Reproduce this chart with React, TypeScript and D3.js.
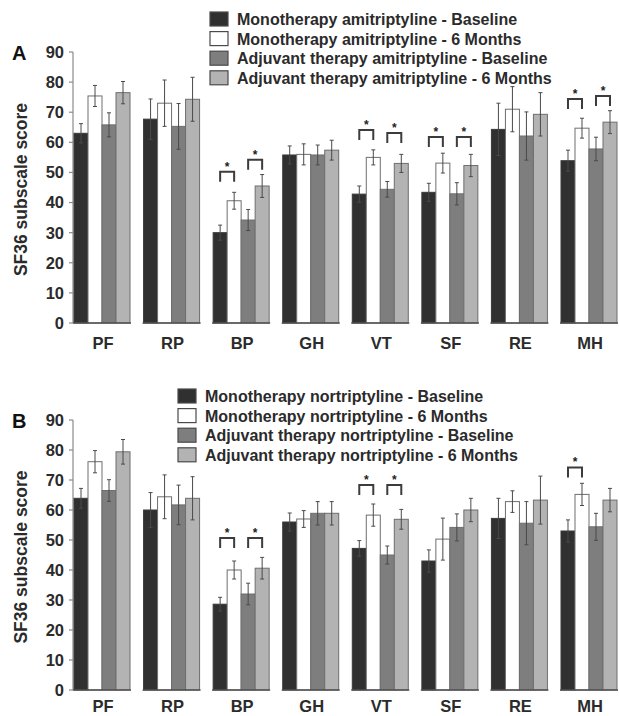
import React from "react";
import * as d3 from "d3";

const categories = ["PF", "RP", "BP", "GH", "VT", "SF", "RE", "MH"];
const yTicks = [0, 10, 20, 30, 40, 50, 60, 70, 80, 90];

const seriesA = [
  "Monotherapy amitriptyline - Baseline",
  "Monotherapy amitriptyline - 6 Months",
  "Adjuvant therapy amitriptyline - Baseline",
  "Adjuvant therapy amitriptyline - 6 Months",
];
const seriesB = [
  "Monotherapy nortriptyline - Baseline",
  "Monotherapy nortriptyline - 6 Months",
  "Adjuvant therapy nortriptyline - Baseline",
  "Adjuvant therapy nortriptyline - 6 Months",
];

// values per series (rows) across categories
const valuesA = [
  [63, 67.7, 30, 55.8, 42.8, 43.4, 64.3, 53.9],
  [75.4, 73, 40.6, 56, 55, 53.1, 71, 64.7],
  [65.8, 65.3, 34.2, 55.8, 44.4, 42.9, 62.1, 57.8],
  [76.5, 74.3, 45.5, 57.4, 53, 52.3, 69.3, 66.7],
];
const errorsA = [
  [3.2, 6.7, 2.5, 3, 2.7, 3, 8.7, 3.5],
  [3.5, 7.7, 2.8, 3.5, 2.5, 3.3, 7.5, 3.3],
  [4, 7.6, 3.5, 3.3, 2.6, 3.7, 8, 3.9],
  [3.7, 7.3, 3.8, 3.3, 3, 3.7, 7.2, 3.8],
];
const valuesB = [
  [63.9, 60, 28.6, 56, 47.2, 43, 57.2, 53],
  [76.1, 64.4, 40, 57, 58.3, 50.3, 62.8, 65.2],
  [66.5, 61.7, 32, 58.9, 45, 54.2, 55.6, 54.4],
  [79.4, 63.9, 40.6, 58.9, 56.9, 60, 63.3, 63.3],
];
const errorsB = [
  [3.3, 5.8, 2.3, 3, 2.6, 3.7, 6.7, 3.7],
  [3.7, 7.3, 3, 2.8, 3.7, 7, 3.6, 3.7],
  [3.6, 6.6, 3.6, 3.9, 3, 4.5, 7.2, 4.5],
  [4.1, 7.2, 3.6, 3.9, 3.3, 3.9, 8, 3.9],
];

// significance brackets: category, pair (0 = monotherapy, 1 = adjuvant), level (score units)
const sigCatsA = ["BP", "BP", "VT", "VT", "SF", "SF", "MH", "MH"];
const sigPairsA = [0, 1, 0, 1, 0, 1, 0, 1];
const sigLevelsA = [50.2, 54.2, 64.1, 63.1, 61.8, 61.8, 74.4, 75.4];
const sigCatsB = ["BP", "BP", "VT", "VT", "MH"];
const sigPairsB = [0, 1, 0, 1, 0];
const sigLevelsB = [50.7, 50.7, 68.3, 68.3, 74.2];

const fills = ["#303030", "#ffffff", "#7e7e7e", "#b3b3b3"];
const FONT = "'Liberation Sans', Arial, Helvetica, sans-serif";
const TEXT = "#2b2b2b";

type PanelProps = {
  letter: string;
  series: string[];
  values: number[][];
  errors: number[][];
  sigCats: string[];
  sigPairs: number[];
  sigLevels: number[];
  yTop: number;
  yBottom: number;
  legendX: number;
  legendY: number;
  catOffset: number;
};

function Panel(p: PanelProps) {
  const x = d3.scaleBand<string>().domain(categories).range([74, 617]).paddingInner(0.195).paddingOuter(0);
  const sub = d3.scaleBand<number>().domain([0, 1, 2, 3]).range([0, x.bandwidth()]).padding(0);
  const y = d3.scaleLinear().domain([0, 90]).range([p.yBottom, p.yTop]);
  const axisX = 73;
  const legStep = 19.6;

  return (
    <g>
      <text x={12} y={y(90) + 8} fontFamily={FONT} fontWeight="bold" fontSize={20} fill="#111">
        {p.letter}
      </text>
      <text
        transform={`translate(27,${(y(0) + y(90)) / 2 + 2}) rotate(-90)`}
        textAnchor="middle"
        fontFamily={FONT}
        fontWeight="bold"
        fontSize={17.5}
        fill={TEXT}
      >
        SF36 subscale score
      </text>
      {/* y axis */}
      <line x1={axisX} x2={axisX} y1={y(0)} y2={y(90)} stroke="#8a8a8a" strokeWidth={1.2} />
      {yTicks.map((t) => (
        <g key={t}>
          <line x1={axisX - 4} x2={axisX} y1={y(t)} y2={y(t)} stroke="#8a8a8a" strokeWidth={1.2} />
          <text
            x={64}
            y={y(t)}
            dy="0.36em"
            textAnchor="end"
            fontFamily={FONT}
            fontWeight="bold"
            fontSize={16.5}
            fill={TEXT}
          >
            {t}
          </text>
        </g>
      ))}
      {/* bars */}
      {categories.map((c, ci) => (
        <g key={c}>
          {p.values.map((vals, si) => {
            const bx = (x(c) as number) + (sub(si) as number);
            const bw = sub.bandwidth();
            const v = vals[ci];
            const e = p.errors[si][ci];
            const cx = bx + bw / 2;
            return (
              <g key={si}>
                <rect
                  x={bx}
                  y={y(v)}
                  width={bw}
                  height={y(0) - y(v)}
                  fill={fills[si]}
                  stroke={si === 0 ? "#3a3a3a" : "#6e6e6e"}
                  strokeWidth={1}
                />
                <line x1={cx} x2={cx} y1={y(v - e)} y2={y(v + e)} stroke="#4a4a4a" strokeWidth={1} />
                <line x1={cx - 2} x2={cx + 2} y1={y(v + e)} y2={y(v + e)} stroke="#4a4a4a" strokeWidth={1} />
                <line x1={cx - 2} x2={cx + 2} y1={y(v - e)} y2={y(v - e)} stroke="#4a4a4a" strokeWidth={1} />
              </g>
            );
          })}
          <line
            x1={(x(c) as number) - 1}
            x2={(x(c) as number) + x.bandwidth() + 1}
            y1={y(0)}
            y2={y(0)}
            stroke="#505050"
            strokeWidth={1.5}
          />
          <text
            x={(x(c) as number) + x.bandwidth() / 2 + 1}
            y={y(0) + p.catOffset}
            textAnchor="middle"
            fontFamily={FONT}
            fontWeight="bold"
            fontSize={16.5}
            fill={TEXT}
          >
            {c}
          </text>
        </g>
      ))}
      {/* significance brackets */}
      {p.sigCats.map((c, i) => {
        const bw = sub.bandwidth();
        const x1 = (x(c) as number) + (sub(p.sigPairs[i] * 2) as number) + bw / 2;
        const x2 = (x(c) as number) + (sub(p.sigPairs[i] * 2 + 1) as number) + bw / 2;
        const ty = y(p.sigLevels[i]);
        return (
          <g key={i}>
            <path
              d={`M${x1},${ty + 10} V${ty} H${x2} V${ty + 10}`}
              fill="none"
              stroke="#3c3c3c"
              strokeWidth={2}
            />
            <text
              x={(x1 + x2) / 2}
              y={ty - 1}
              textAnchor="middle"
              fontFamily={FONT}
              fontWeight="bold"
              fontSize={12}
              fill="#222"
            >
              *
            </text>
          </g>
        );
      })}
      {/* legend */}
      {p.series.map((s, i) => (
        <g key={s}>
          <rect
            x={p.legendX}
            y={p.legendY + i * legStep}
            width={18}
            height={14}
            fill={fills[i]}
            stroke="#4a4a4a"
            strokeWidth={1.2}
          />
          <text
            x={p.legendX + 27}
            y={p.legendY + i * legStep + 13}
            fontFamily={FONT}
            fontWeight="bold"
            fontSize={16}
            fill={TEXT}
          >
            {s}
          </text>
        </g>
      ))}
    </g>
  );
}

export default function App() {
  return (
    <svg
      width={619}
      height={716}
      style={{ position: "absolute", left: 0, top: 0, background: "#fff" }}
    >
      <rect x={0} y={0} width={619} height={716} fill="#fff" />
      <Panel
        letter="A"
        series={seriesA}
        values={valuesA}
        errors={errorsA}
        sigCats={sigCatsA}
        sigPairs={sigPairsA}
        sigLevels={sigLevelsA}
        yTop={52}
        yBottom={323}
        legendX={210}
        legendY={12}
        catOffset={26}
      />
      <Panel
        letter="B"
        series={seriesB}
        values={valuesB}
        errors={errorsB}
        sigCats={sigCatsB}
        sigPairs={sigPairsB}
        sigLevels={sigLevelsB}
        yTop={420}
        yBottom={690}
        legendX={178}
        legendY={389}
        catOffset={22}
      />
    </svg>
  );
}
